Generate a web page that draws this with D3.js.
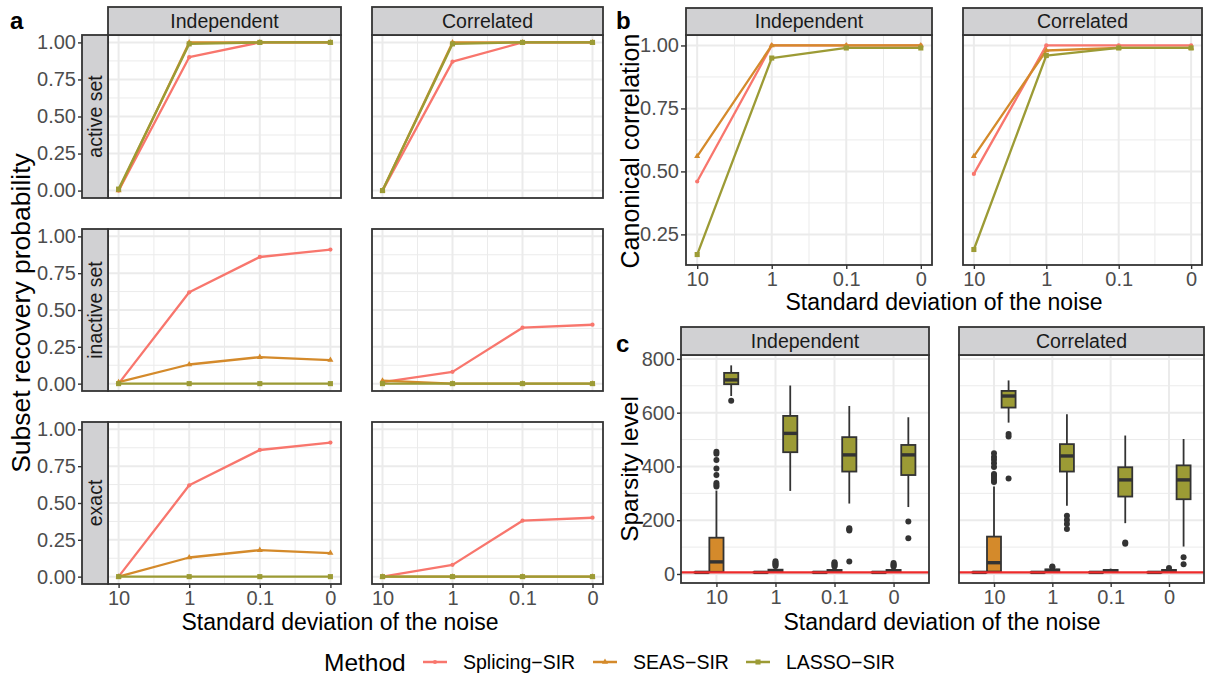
<!DOCTYPE html>
<html>
<head>
<meta charset="utf-8">
<script src="https://cdn.jsdelivr.net/npm/d3@7"></script>
<style>
  body { margin: 0; background: #fff; }
  svg { display: block; }
</style>
</head>
<body>
<svg id="chart" width="1205" height="677"></svg>
<script>
const noise = ["10", "1", "0.1", "0"];
const methods = ["Splicing−SIR", "SEAS−SIR", "LASSO−SIR"];
const colors = ["#F8766D", "#D48A2B", "#9C9B35"];
const designs = ["Independent", "Correlated"];
const recoveryKinds = ["active set", "inactive set", "exact"];

// a: subset recovery probability, one row per method, values follow `noise`
const activeIndependent = [[0.00, 0.90, 1.00, 1.00], [0.00, 1.00, 1.00, 1.00], [0.01, 0.99, 1.00, 1.00]];
const activeCorrelated = [[0.00, 0.87, 1.00, 1.00], [0.00, 1.00, 1.00, 1.00], [0.00, 0.99, 1.00, 1.00]];
const inactiveIndependent = [[0.00, 0.62, 0.86, 0.91], [0.01, 0.13, 0.18, 0.16], [0.00, 0.00, 0.00, 0.00]];
const inactiveCorrelated = [[0.01, 0.08, 0.38, 0.40], [0.02, 0.00, 0.00, 0.00], [0.00, 0.00, 0.00, 0.00]];
const exactIndependent = [[0.00, 0.62, 0.86, 0.91], [0.00, 0.13, 0.18, 0.16], [0.00, 0.00, 0.00, 0.00]];
const exactCorrelated = [[0.00, 0.08, 0.38, 0.40], [0.00, 0.00, 0.00, 0.00], [0.00, 0.00, 0.00, 0.00]];

// b: canonical correlation
const canonIndependent = [[0.46, 1.00, 1.00, 1.00], [0.56, 1.00, 1.00, 1.00], [0.17, 0.95, 0.99, 0.99]];
const canonCorrelated = [[0.49, 1.00, 1.00, 1.00], [0.56, 0.98, 0.99, 0.99], [0.19, 0.96, 0.99, 0.99]];

// c: sparsity level, [lower whisker, q1, median, q3, upper whisker] per noise level
const boxSplicingIndependent = [[5, 5, 6, 7, 8], [5, 5, 6, 7, 9], [5, 5, 6, 7, 8], [5, 5, 6, 7, 8]];
const boxSeasIndependent = [[5, 8, 45, 135, 310], [5, 8, 12, 16, 26], [5, 8, 11, 15, 24], [5, 8, 11, 15, 24]];
const boxLassoIndependent = [[662, 706, 722, 748, 776], [309, 453, 523, 588, 701], [262, 381, 443, 509, 625], [249, 368, 443, 480, 583]];
const outSplicingIndependent = [[], [], [], []];
const outSeasIndependent = [[325, 332, 338, 368, 392, 424, 447, 455], [30, 34, 38, 42, 47], [28, 32, 36, 40, 44], [28, 32, 36, 41]];
const outLassoIndependent = [[644], [], [46, 162, 166, 170], [133, 195]];

const boxSplicingCorrelated = [[5, 5, 6, 7, 8], [5, 5, 6, 7, 8], [5, 5, 6, 7, 8], [5, 5, 6, 7, 8]];
const boxSeasCorrelated = [[5, 9, 42, 139, 325], [5, 9, 13, 17, 22], [5, 9, 12, 15, 20], [5, 9, 12, 15, 19]];
const boxLassoCorrelated = [[563, 619, 662, 681, 720], [254, 381, 439, 483, 594], [189, 288, 350, 397, 515], [102, 278, 350, 404, 502]];
const outSplicingCorrelated = [[], [], [], []];
const outSeasCorrelated = [[342, 350, 358, 366, 372, 398, 412, 425, 435, 449], [25, 28], [], [22]];
const outLassoCorrelated = [[355, 511, 521], [167, 186, 201, 217], [112, 117], [36, 62]];

const trueSparsity = 6;

const svg = d3.select("#chart");
const FONT = '"Liberation Sans", Arial, Helvetica, sans-serif';
const GRID = "#EBEBEB";
const INK = "#333333";
const TICK_TEXT = "#4D4D4D";
const STRIP_FILL = "#D1D1D3";

svg.attr("font-family", FONT);

const expand = ([lo, hi]) => [lo - (hi - lo) * 0.05, hi + (hi - lo) * 0.05];
const mids = arr => d3.pairs(arr, (a, b) => (a + b) / 2);

// background + grid for one facet
function panel(x0, x1, y0, y1, xMajor, xMinor, yMajor, yMinor) {
  const g = svg.append("g");
  g.append("rect").attr("x", x0).attr("y", y0).attr("width", x1 - x0).attr("height", y1 - y0).attr("fill", "#fff");
  const hline = (data, w) => g.append("g").selectAll("line").data(data).join("line")
    .attr("x1", x0).attr("x2", x1).attr("y1", d => d).attr("y2", d => d)
    .attr("stroke", GRID).attr("stroke-width", w);
  const vline = (data, w) => g.append("g").selectAll("line").data(data).join("line")
    .attr("y1", y0).attr("y2", y1).attr("x1", d => d).attr("x2", d => d)
    .attr("stroke", GRID).attr("stroke-width", w);
  hline(yMinor, 1);
  vline(xMinor, 1);
  hline(yMajor, 2);
  vline(xMajor, 2);
  return g;
}

function border(x0, x1, y0, y1) {
  svg.append("rect").attr("x", x0).attr("y", y0).attr("width", x1 - x0).attr("height", y1 - y0)
    .attr("fill", "none").attr("stroke", INK).attr("stroke-width", 1.8);
}

function strip(x0, x1, y0, y1, label, vertical) {
  const g = svg.append("g");
  g.append("rect").attr("x", x0).attr("y", y0).attr("width", x1 - x0).attr("height", y1 - y0)
    .attr("fill", STRIP_FILL).attr("stroke", INK).attr("stroke-width", 1.8);
  const cx = (x0 + x1) / 2, cy = (y0 + y1) / 2;
  g.append("text")
    .attr("transform", vertical ? `translate(${cx},${cy}) rotate(-90)` : `translate(${cx},${cy})`)
    .attr("text-anchor", "middle").attr("dy", "0.35em")
    .attr("font-size", 19.5).attr("fill", "#1A1A1A").text(label);
}

function styleAxis(g) {
  g.select(".domain").remove();
  g.selectAll(".tick line").attr("stroke", INK).attr("stroke-width", 1.4);
  g.selectAll(".tick text").attr("fill", TICK_TEXT).attr("font-size", 20).attr("font-family", FONT);
}

function yAxis(x, scale, ticks, fmt, size) {
  svg.append("g").attr("transform", `translate(${x},0)`)
    .call(d3.axisLeft(scale).tickValues(ticks).tickFormat(fmt).tickSize(size).tickPadding(2))
    .call(styleAxis);
}

function xAxis(y, scale) {
  svg.append("g").attr("transform", `translate(0,${y})`)
    .call(d3.axisBottom(scale).tickSize(4).tickPadding(3))
    .call(styleAxis);
}

const symbols = [d3.symbolCircle, d3.symbolTriangle, d3.symbolSquare];
const symbolSizes = [14, 16, 26];

function drawLines(g, series, xs, ys) {
  series.forEach((vals, k) => {
    const pts = vals.map((v, i) => [xs(noise[i]), ys(v)]);
    g.append("path").attr("d", d3.line()(pts)).attr("fill", "none")
      .attr("stroke", colors[k]).attr("stroke-width", 2.3).attr("stroke-linejoin", "round");
    g.append("g").selectAll("path").data(pts).join("path")
      .attr("transform", d => `translate(${d[0]},${d[1]})`)
      .attr("d", d3.symbol(symbols[k], symbolSizes[k]))
      .attr("fill", colors[k]);
  });
}

function text(x, y, str, opts = {}) {
  const t = svg.append("text").attr("x", x).attr("y", y).text(str)
    .attr("font-size", opts.size || 23).attr("fill", opts.fill || "#000")
    .attr("text-anchor", opts.anchor || "middle");
  if (opts.bold) t.attr("font-weight", "bold");
  if (opts.rotate) t.attr("transform", `rotate(-90,${x},${y})`);
  if (opts.dy) t.attr("dy", opts.dy);
  return t;
}

// ---------- a ----------
const aCols = [[108, 341], [372, 603]];
const aRows = [[35, 198], [229, 391], [422, 584]];
const aData = [
  [activeIndependent, activeCorrelated],
  [inactiveIndependent, inactiveCorrelated],
  [exactIndependent, exactCorrelated]
];
const aDomain = expand([0, 1]);
const probTicks = [0, 0.25, 0.5, 0.75, 1];
const probMinor = [0.125, 0.375, 0.625, 0.875];

aRows.forEach(([y0, y1], r) => {
  const ys = d3.scaleLinear().domain(aDomain).range([y1, y0]);
  aCols.forEach(([x0, x1], c) => {
    const xs = d3.scalePoint().domain(noise).range([x0, x1]).padding(0.15);
    const xp = noise.map(xs);
    const g = panel(x0, x1, y0, y1, xp, mids(xp), probTicks.map(ys), probMinor.map(ys));
    drawLines(g, aData[r][c], xs, ys);
    border(x0, x1, y0, y1);
    if (r === aRows.length - 1) xAxis(y1, xs);
  });
  strip(82, 108, y0, y1, recoveryKinds[r], true);
  yAxis(82, ys, probTicks, d3.format(".2f"), 4);
});
aCols.forEach(([x0, x1], c) => strip(x0, x1, 7, 35, designs[c], false));
text(340, 622, "Standard deviation of the noise", { dy: "0.35em" });
text(21, 313, "Subset recovery probability", { rotate: true, dy: "0.35em", size: 26.5 });
text(10, 29, "a", { bold: true, anchor: "start", size: 24 });

// ---------- b ----------
const bCols = [[686, 932], [963, 1202]];
const [bY0, bY1] = [35, 265];
const bData = [canonIndependent, canonCorrelated];
const bDomain = expand(d3.extent(bData.flat(2)));
const bys = d3.scaleLinear().domain(bDomain).range([bY1, bY0]);
const canonTicks = [0.25, 0.5, 0.75, 1];
const canonMinor = [0.125, 0.375, 0.625, 0.875].filter(v => v > bDomain[0]);

bCols.forEach(([x0, x1], c) => {
  const xs = d3.scalePoint().domain(noise).range([x0, x1]).padding(0.15);
  const xp = noise.map(xs);
  const g = panel(x0, x1, bY0, bY1, xp, mids(xp), canonTicks.map(bys), canonMinor.map(bys));
  drawLines(g, bData[c], xs, bys);
  border(x0, x1, bY0, bY1);
  xAxis(bY1, xs);
  strip(x0, x1, 8, 35, designs[c], false);
});
yAxis(686, bys, canonTicks, d3.format(".2f"), 5);
text(944, 302, "Standard deviation of the noise", { dy: "0.35em" });
text(630, 151, "Canonical correlation", { rotate: true, dy: "0.35em", size: 25 });
text(616, 29, "b", { bold: true, anchor: "start", size: 24 });

// ---------- c ----------
const cCols = [[681, 929], [959, 1204]];
const [cY0, cY1] = [355, 583];
const cBoxes = [
  [boxSplicingIndependent, boxSeasIndependent, boxLassoIndependent],
  [boxSplicingCorrelated, boxSeasCorrelated, boxLassoCorrelated]
];
const cOutliers = [
  [outSplicingIndependent, outSeasIndependent, outLassoIndependent],
  [outSplicingCorrelated, outSeasCorrelated, outLassoCorrelated]
];
const cDomain = expand(d3.extent([...cBoxes.flat(3), ...cOutliers.flat(3)]));
const cys = d3.scaleLinear().domain(cDomain).range([cY1, cY0]);
const sparsTicks = [0, 200, 400, 600, 800];
const sparsMinor = [100, 300, 500, 700];

function drawBox(g, cx, bw, s, out, fill) {
  const [lo, q1, med, q3, hi] = s;
  g.append("line").attr("x1", cx).attr("x2", cx).attr("y1", cys(hi)).attr("y2", cys(lo))
    .attr("stroke", INK).attr("stroke-width", 1.8);
  g.append("rect").attr("x", cx - bw / 2).attr("y", cys(q3)).attr("width", bw)
    .attr("height", Math.max(0, cys(q1) - cys(q3)))
    .attr("fill", fill).attr("stroke", INK).attr("stroke-width", 1.8);
  g.append("line").attr("x1", cx - bw / 2).attr("x2", cx + bw / 2).attr("y1", cys(med)).attr("y2", cys(med))
    .attr("stroke", INK).attr("stroke-width", 3.4);
  g.append("g").selectAll("circle").data(out).join("circle")
    .attr("cx", cx).attr("cy", d => cys(d)).attr("r", 3).attr("fill", INK);
}

cCols.forEach(([x0, x1], c) => {
  const xs = d3.scalePoint().domain(noise).range([x0, x1]).padding(0.6);
  const xp = noise.map(xs);
  const g = panel(x0, x1, cY0, cY1, xp, [], sparsTicks.map(cys), sparsMinor.map(cys));
  const step = xs.step();
  noise.forEach((n, i) => {
    methods.forEach((m, k) => {
      const cx = xs(n) + (k - 1) * step * 0.25;
      drawBox(g, cx, step * 0.24, cBoxes[c][k][i], cOutliers[c][k][i], colors[k]);
    });
  });
  g.append("line").attr("x1", x0).attr("x2", x1).attr("y1", cys(trueSparsity)).attr("y2", cys(trueSparsity))
    .attr("stroke", "#EE2A2A").attr("stroke-width", 2.4);
  border(x0, x1, cY0, cY1);
  xAxis(cY1, xs);
  strip(x0, x1, 327, 355, designs[c], false);
});
yAxis(681, cys, sparsTicks, d3.format("d"), 4);
text(942, 622, "Standard deviation of the noise", { dy: "0.35em" });
text(629, 469, "Sparsity level", { rotate: true, dy: "0.35em", size: 24.5 });
text(616, 352, "c", { bold: true, anchor: "start", size: 24 });

// ---------- legend ----------
const legY = 662;
const keyX = [423, 593, 746];
text(324, legY, "Method", { anchor: "start", dy: "0.35em", size: 24.5 });
const legend = svg.append("g");
methods.forEach((m, k) => {
  legend.append("line").attr("x1", keyX[k]).attr("x2", keyX[k] + 24).attr("y1", legY).attr("y2", legY)
    .attr("stroke", colors[k]).attr("stroke-width", 2.5);
  legend.append("path").attr("transform", `translate(${keyX[k] + 12},${legY})`)
    .attr("d", d3.symbol(symbols[k], symbolSizes[k])).attr("fill", colors[k]);
  legend.append("text").attr("x", keyX[k] + 40).attr("y", legY).attr("dy", "0.35em")
    .attr("font-size", 19.5).attr("fill", "#000").text(m);
});
</script>
</body>
</html>
